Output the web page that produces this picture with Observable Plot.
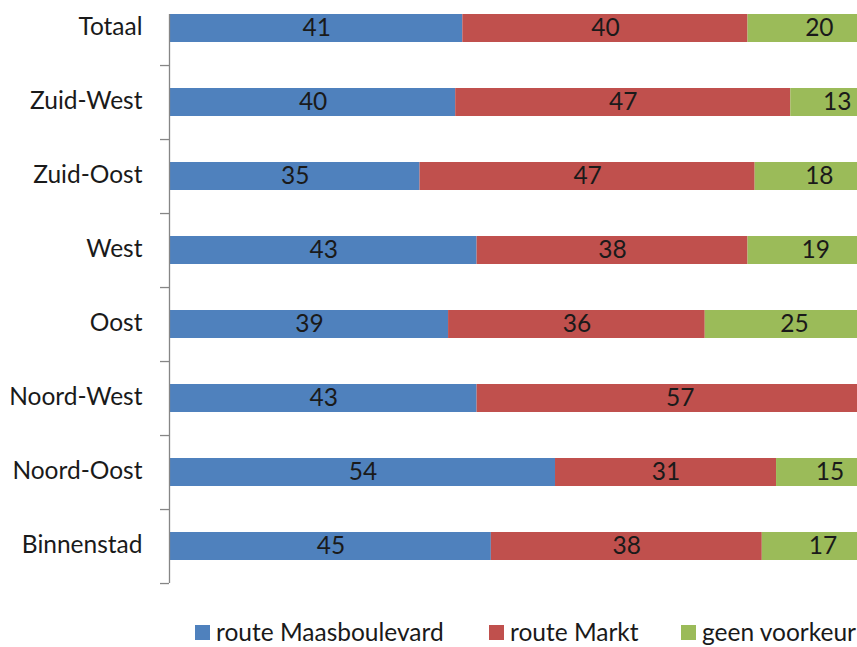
<!DOCTYPE html>
<html>
<head>
<meta charset="utf-8">
<script src="https://cdn.jsdelivr.net/npm/d3@7"></script>
<script src="https://cdn.jsdelivr.net/npm/@observablehq/plot@0.6"></script>
<style>
  html, body { margin: 0; padding: 0; background: #fff; overflow: hidden; }
  #wrap { position: relative; width: 857px; height: 647px; font-family: Lato, "Open Sans", sans-serif; }
  #legend { position: absolute; top: 619px; left: 0; width: 857px; height: 28px; font-size: 24.5px; color: #1a1a1a; line-height: 26px; }
  .item { position: absolute; top: 0; display: flex; align-items: center; white-space: nowrap; }
  .sw { width: 15px; height: 15px; margin-right: 6px; }
</style>
</head>
<body>
<div id="wrap"><div id="chart"></div><div id="legend"></div></div>
<script>
const regions = ["Totaal", "Zuid-West", "Zuid-Oost", "West", "Oost", "Noord-West", "Noord-Oost", "Binnenstad"];
const seriesNames = ["route Maasboulevard", "route Markt", "geen voorkeur"];
const seriesColors = ["#4F81BD", "#C0504D", "#9BBB59"];
const maasboulevard = [41, 40, 35, 43, 39, 43, 54, 45];
const markt = [40, 47, 47, 38, 36, 57, 31, 38];
const geenVoorkeur = [20, 13, 18, 19, 25, 0, 15, 17];

const seriesValues = [maasboulevard, markt, geenVoorkeur];
const data = [];
seriesNames.forEach((s, si) => {
  regions.forEach((r, ri) => data.push({region: r, series: s, value: seriesValues[si][ri]}));
});

const step = (546 - 27.5) / 7;
const pxPerUnit = 7.13;
const marginLeft = 170;
const width = 857;
const fs = 24.5;

const chart = Plot.plot({
  width,
  height: 600,
  marginLeft,
  marginRight: 0,
  marginTop: 14,
  marginBottom: 17,
  style: {fontFamily: "Lato, 'Open Sans', sans-serif", background: "transparent"},
  x: {domain: [0, (width - marginLeft) / pxPerUnit], axis: null},
  y: {domain: regions, range: [27.5 - step / 2, 546 + step / 2], paddingInner: 0.62, paddingOuter: 0.31, label: null},
  color: {domain: seriesNames, range: seriesColors},
  marks: [
    Plot.barX(data, Plot.stackX({x: "value", y: "region", fill: "series", z: "series", clip: true})),
    Plot.text(data, Plot.stackX({x: "value", y: "region", z: "series", text: d => d.value > 0 ? String(d.value) : "", fontSize: fs, fill: "#1a1a1a"})),
    Plot.ruleX([0], {stroke: "#868686", strokeWidth: 1.3, dx: -1}),
    Plot.ruleY(regions, {y: d => d, x1: -9 / pxPerUnit, x2: 0, dx: -1, dy: step / 2, stroke: "#868686", strokeWidth: 1.3}),
    Plot.axisY({tickSize: 0, tickPadding: 28, fontSize: fs, fill: "#1a1a1a", label: null, dy: -1})
  ]
});
document.getElementById("chart").appendChild(chart);

const legendLefts = [195, 489, 681];
const legend = document.getElementById("legend");
seriesNames.forEach((s, i) => {
  const it = document.createElement("div");
  it.className = "item";
  it.style.left = legendLefts[i] + "px";
  const sw = document.createElement("div");
  sw.className = "sw";
  sw.style.background = seriesColors[i];
  const tx = document.createElement("span");
  tx.textContent = s;
  it.appendChild(sw); it.appendChild(tx);
  legend.appendChild(it);
});
</script>
</body>
</html>
